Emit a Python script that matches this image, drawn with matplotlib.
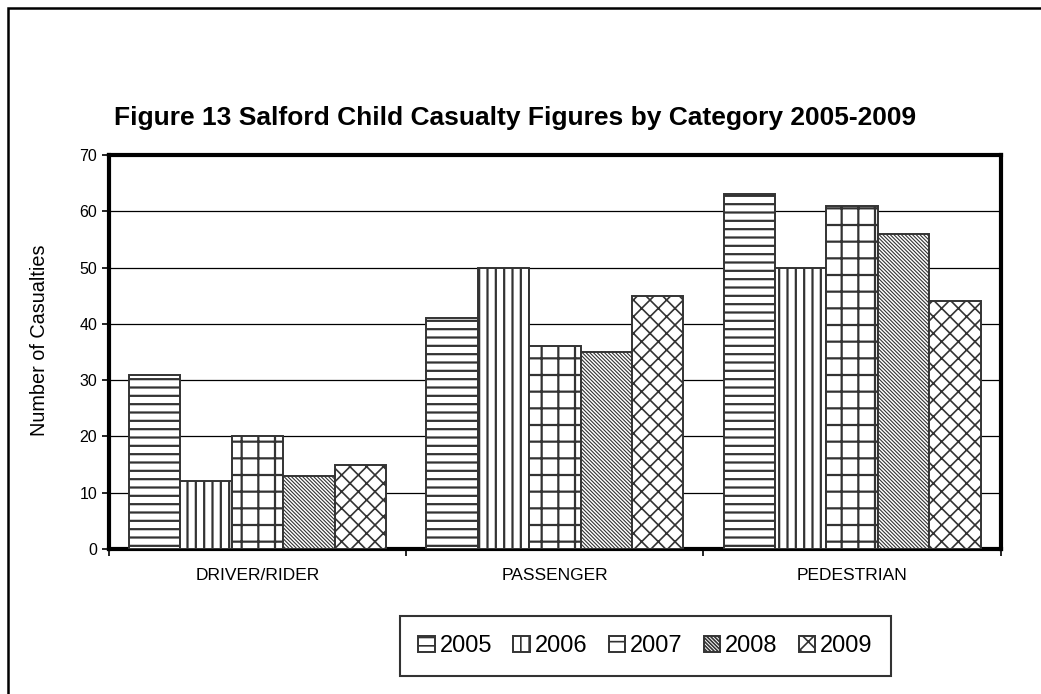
import numpy as np
import matplotlib
matplotlib.use("Agg")
import matplotlib.pyplot as plt
from matplotlib.patches import Rectangle

plt.rcParams["font.family"] = ["Liberation Sans", "DejaVu Sans"]

TITLE = "Figure 13 Salford Child Casualty Figures by Category 2005-2009"
CATEGORIES = ["DRIVER/RIDER", "PASSENGER", "PEDESTRIAN"]
YEARS = ["2005", "2006", "2007", "2008", "2009"]

VALUES_2005 = [31, 41, 63]
VALUES_2006 = [12, 50, 50]
VALUES_2007 = [20, 36, 61]
VALUES_2008 = [13, 35, 56]
VALUES_2009 = [15, 45, 44]

HATCHES = ["--", "||", "+", "\\" * 9, "xx"]
HATCH_WIDTHS = [1.6, 1.6, 1.6, 0.8, 1.2]


def main():
    series = [VALUES_2005, VALUES_2006, VALUES_2007, VALUES_2008, VALUES_2009]

    fig = plt.figure(figsize=(10.41, 6.94), dpi=100)
    ax = fig.add_axes([0.1047, 0.2089, 0.8566, 0.5678])

    x = np.arange(len(CATEGORIES))
    width = 0.173

    for i, (year, values) in enumerate(zip(YEARS, series)):
        plt.rcParams["hatch.linewidth"] = HATCH_WIDTHS[i]
        bars = ax.bar(
            x + (i - 2) * width,
            values,
            width=width,
            color="white",
            edgecolor="#333333",
            linewidth=1.4,
            hatch=HATCHES[i],
            label=year,
            zorder=3,
        )
        for bar in bars:
            if hasattr(bar, "set_hatch_linewidth"):
                bar.set_hatch_linewidth(HATCH_WIDTHS[i])

    ax.set_xlim(-0.5, 2.5)
    ax.set_ylim(0, 70)
    ax.set_yticks(range(0, 71, 10))
    ax.tick_params(axis="y", labelsize=11.5, length=5, width=1.2, direction="out")
    ax.set_xticks(x, labels=CATEGORIES)
    ax.tick_params(axis="x", which="major", length=0, labelsize=12.5, pad=14)
    ax.set_xticks([-0.5, 0.5, 1.5, 2.5], minor=True)
    ax.tick_params(axis="x", which="minor", length=5, width=1.2, direction="out")

    ax.yaxis.grid(True, color="black", linewidth=0.9, zorder=0)
    ax.set_axisbelow(True)
    for spine in ax.spines.values():
        spine.set_linewidth(3)
        spine.set_color("black")

    fig.text(0.495, 0.830, TITLE, ha="center", va="center",
             fontsize=19, fontweight="bold")
    fig.text(0.038, 0.51, "Number of Casualties", ha="center", va="center",
             rotation=90, fontsize=14.3)

    legend = fig.legend(
        loc="center",
        bbox_to_anchor=(0.620, 0.069),
        ncol=5,
        fontsize=17,
        frameon=True,
        fancybox=False,
        handlelength=0.7,
        handleheight=0.7,
        handletextpad=0.2,
        columnspacing=0.9,
        borderpad=0.8,
    )
    legend.get_frame().set_edgecolor("black")
    legend.get_frame().set_linewidth(1.5)

    border = Rectangle((8 / 1041, -0.2), 1.5, 1.2 - 8 / 694,
                       transform=fig.transFigure, fill=False,
                       edgecolor="black", linewidth=1.8)
    fig.patches.append(border)

    fig.savefig("out.png", dpi=100)
    plt.close(fig)


if __name__ == "__main__":
    main()
